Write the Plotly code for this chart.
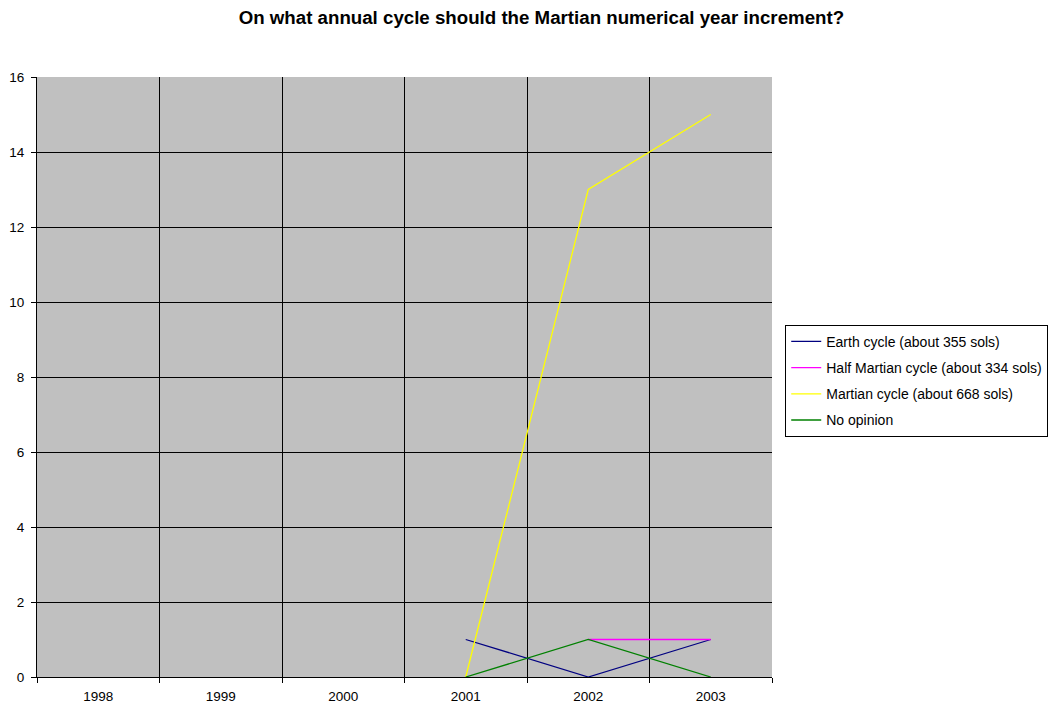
import plotly.graph_objects as go

years = ["1998", "1999", "2000", "2001", "2002", "2003"]
earth_cycle = [None, None, None, 1, 0, 1]
half_martian = [None, None, None, None, 1, 1]
martian_cycle = [None, None, None, 0, 13, 15]
no_opinion = [None, None, None, 0, 1, 0]

series = [
    ("Earth cycle (about 355 sols)", earth_cycle, "#000080"),
    ("Half Martian cycle (about 334 sols)", half_martian, "#FF00FF"),
    ("Martian cycle (about 668 sols)", martian_cycle, "#FFFF00"),
    ("No opinion", no_opinion, "#008000"),
]

fig = go.Figure()
for name, vals, color in series:
    fig.add_trace(go.Scatter(x=years, y=vals, name=name, mode="lines",
                             legendgroup=name,
                             line=dict(color=color, width=1.3)))

# page body adds an 8px offset, so the figure is sized to fit the window
fig.update_layout(
    width=1050, height=698,
    margin=dict(l=29, r=286, t=69, b=29, autoexpand=False),
    paper_bgcolor="white",
    plot_bgcolor="#C0C0C0",
    font=dict(family="Liberation Sans, Arial", size=13.5, color="black"),
    title=dict(text="<b>On what annual cycle should the Martian numerical year increment?</b>",
               x=0.508, xanchor="center", y=0.986, yanchor="middle",
               font=dict(size=18.7)),
    legend=dict(x=1.018, y=0.587, xanchor="left", yanchor="top",
                bordercolor="black", borderwidth=1, bgcolor="white",
                font=dict(size=14), tracegroupgap=5, itemwidth=30),
    showlegend=True,
)
fig.update_xaxes(type="category", range=[-0.5, 5.5], tickson="boundaries",
                 showgrid=True, gridcolor="black", gridwidth=1, showline=True,
                 linecolor="black", linewidth=1, ticks="outside", ticklen=5,
                 tickcolor="black", zeroline=False, automargin=False,
                 ticklabelstandoff=7)
fig.update_yaxes(range=[0, 16], dtick=2, showgrid=True, gridcolor="black",
                 gridwidth=1, showline=True, linecolor="black", linewidth=1,
                 ticks="outside", ticklen=5, tickcolor="black", zeroline=False,
                 automargin=False, ticklabelstandoff=4)

fig.write_html("out.html")
